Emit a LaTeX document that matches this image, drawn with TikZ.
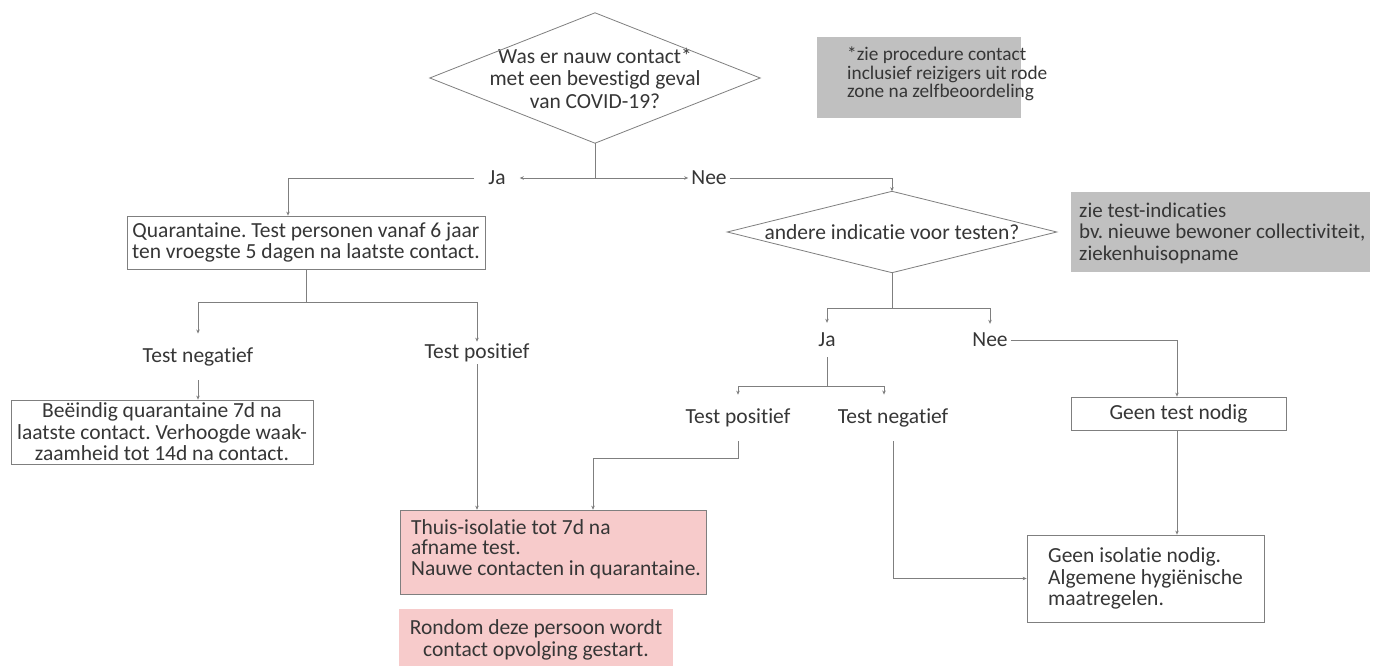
\documentclass[tikz,border=0pt]{standalone}
\usepackage{fontspec}
\setmainfont{Carlito}[Ligatures=NoCommon]
\usetikzlibrary{shapes.geometric,arrows.meta}
\definecolor{linec}{HTML}{7F7F7F}
\definecolor{textc}{HTML}{363636}
\definecolor{notefill}{HTML}{C0C0C0}
\definecolor{pinkfill}{HTML}{F7CBCB}
\frenchspacing
\begin{document}
\begin{tikzpicture}[x=1pt,y=-1pt,
  every node/.style={text=textc, font=\fontsize{21.5}{21.5}\selectfont},
  conn/.style={draw=linec, line width=0.8pt},
  arr/.style={conn, -{Stealth[length=4pt,width=3.5pt]}},
  decision/.style={rectangle, align=center, inner sep=0pt},
  box/.style={rectangle, draw=linec, line width=0.8pt, align=center, inner sep=0pt},
  pinkbox/.style={rectangle, draw=linec, line width=0.6pt, fill=pinkfill, inner sep=0pt},
  notebox/.style={rectangle, fill=notefill, inner sep=0pt},
  notetext/.style={align=left, inner sep=0pt},
  lbl/.style={inner xsep=8pt, inner ysep=8pt}
]
\useasboundingbox[fill=white] (0,0) rectangle (1382,666);

% decision 1
\node[decision, minimum width=330pt, minimum height=130pt, font=\fontsize{21.5}{22.5}\selectfont] (d1) at (595,78)
  {Was er nauw contact*\\met een bevestigd geval\\van COVID-19?};
\draw[conn] (d1.north) -- (d1.east) -- (d1.south) -- (d1.west) -- cycle;
% note 1
\node[notebox, minimum width=204pt, minimum height=81pt] (n1) at (919,77.5) {};
\node[notetext, anchor=west, font=\fontsize{19.3}{18.5}\selectfont] (n1t) at (847,74) {*zie procedure contact\\inclusief reizigers uit rode\\zone na zelfbeoordeling};

% Ja / Nee first level
\coordinate (j1) at (595,178);
\node[lbl, inner xsep=14pt] (ja1) at (497,178) {Ja};
\node[lbl, inner xsep=3pt] (nee1) at (709,178) {Nee};
\draw[conn] (d1.south) -- (j1);
\draw[arr] (j1) -- (ja1.east);
\draw[arr] (j1) -- (nee1.west);

% quarantaine box
\node[box, minimum width=358pt, minimum height=53pt] (quar) at (306,242.5)
  {Quarantaine. Test personen vanaf 6 jaar\\ten vroegste 5 dagen na laatste contact.};
\draw[arr] (ja1.west) -| ([xshift=-18pt]quar.north);

% decision 2
\node[decision, minimum width=329pt, minimum height=81pt] (d2) at (892,232)
  {andere indicatie voor testen?};
\draw[conn] (d2.north) -- (d2.east) -- (d2.south) -- (d2.west) -- cycle;
\draw[arr] (nee1.east) -| (d2.north);
% note 2
\node[notebox, minimum width=299pt, minimum height=80pt] (n2) at (1220.5,232) {};
\node[notetext, anchor=west, font=\fontsize{21}{21.5}\selectfont] (n2t) at (1079,233) {zie test-indicaties\\bv. nieuwe bewoner collectiviteit,\\ziekenhuisopname};

% second level Ja / Nee
\coordinate (j2) at (892,308);
\node[lbl, inner ysep=10pt] (ja2) at (827,340) {Ja};
\node[lbl, inner ysep=9pt, inner xsep=3pt] (nee2) at (990,340) {Nee};
\draw[conn] (d2.south) -- (j2);
\draw[arr] (j2) -| (ja2.north);
\draw[arr] (j2) -| (nee2.north);

% geen test nodig
\node[box, minimum width=215pt, minimum height=33pt] (gtn) at (1178.5,413.5) {Geen test nodig};
\draw[arr] (nee2.east) -| ([xshift=-1.5pt]gtn.north);

% geen isolatie
\node[box, minimum width=237pt, minimum height=87pt, align=left] (gin) at (1145.5,578.5)
  {Geen isolatie nodig.\\Algemene hygiënische\\maatregelen.};
\draw[arr] ([xshift=-1.5pt]gtn.south) -- ([xshift=-1.5pt]gtn.south |- gin.north);

% tests right
\coordinate (j3) at (827,386);
\node[lbl, inner ysep=14pt] (tp2) at (738,418) {Test positief};
\node[lbl, inner ysep=14pt] (tn2) at (893,418) {Test negatief};
\draw[conn] (ja2.south) -- (j3);
\draw[arr] (j3) -| (tp2.north);
\draw[arr] (j3) -| ([xshift=-9pt]tn2.north);
\draw[arr] (tn2.south) |- (gin.west);

% tests left
\coordinate (j4) at (306,302);
\node[lbl, inner ysep=14pt] (tn1) at (198,357) {Test negatief};
\node[lbl, inner ysep=2pt] (tp1) at (477,353) {Test positief};
\draw[conn] (quar.south) -- (j4);
\draw[arr] (j4) -| (tn1.north);
\draw[arr] (j4) -| (tp1.north);

% beeindig box
\node[box, minimum width=302pt, minimum height=64pt] (bei) at (162,432)
  {Beëindig quarantaine 7d na\\laatste contact. Verhoogde waak-\\zaamheid tot 14d na contact.};
\draw[arr] (tn1.south) -- (tn1.south |- bei.north);

% thuis-isolatie box
\node[pinkbox, minimum width=306pt, minimum height=84pt] (thuis) at (553,552) {};
\node[notetext, anchor=west, font=\fontsize{21.5}{20.5}\selectfont] (thuist) at (411,549)
  {Thuis-isolatie tot 7d na\\afname test.\\Nauwe contacten in quarantaine.};
\draw[arr] (tp1.south) -- (tp1.south |- thuis.north);
\coordinate (j5) at (593,458);
\draw[conn] (tp2.south) |- (j5);
\draw[arr] (j5) -- (j5 |- thuis.north);

% rondom box
\node[rectangle, fill=pinkfill, inner sep=0pt, minimum width=274pt, minimum height=62pt, align=center] (rond) at (536,640)
  {Rondom deze persoon wordt\\contact opvolging gestart.};
\end{tikzpicture}
\end{document}
